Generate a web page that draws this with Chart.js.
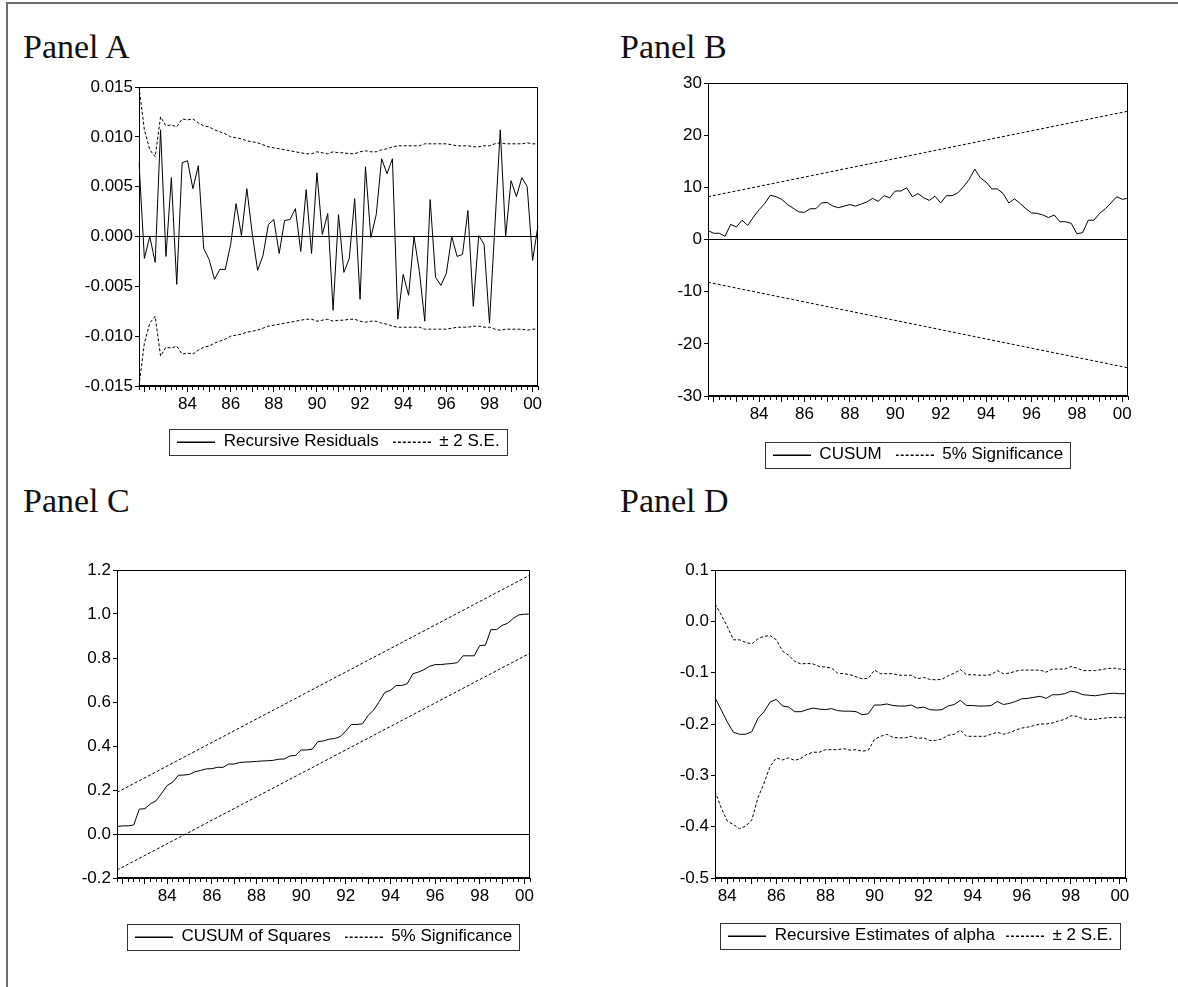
<!DOCTYPE html>
<html>
<head>
<meta charset="utf-8">
<script src="https://cdn.jsdelivr.net/npm/chart.js@4"></script>
<style>
  body { margin: 0; background: #fff; width: 1178px; height: 987px; position: relative; overflow: hidden; }
  .frame { position: absolute; left: 6px; top: 2px; width: 1200px; height: 1000px;
           border-top: 2px solid #6e6e6e; border-left: 2px solid #6e6e6e; }
  .ttl { position: absolute; font: 34px/34px "Liberation Serif", "Times New Roman", serif; color: #111; white-space: nowrap; }
  canvas { position: absolute; }
</style>
</head>
<body>
<div class="frame"></div>
<div class="ttl" style="left:23px;top:30px">Panel A</div>
<div class="ttl" style="left:620px;top:30px">Panel B</div>
<div class="ttl" style="left:23px;top:484px">Panel C</div>
<div class="ttl" style="left:620px;top:484px">Panel D</div>

<canvas id="panelA" width="479" height="392" style="left:69px;top:72px"></canvas>
<canvas id="panelB" width="480" height="409" style="left:658px;top:68px"></canvas>
<canvas id="panelC" width="473" height="404" style="left:67px;top:555px"></canvas>
<canvas id="panelD" width="471" height="403" style="left:665px;top:555px"></canvas>

<script>
// quarterly sample labels
function quarters(year, q, n) {
  const out = [];
  for (let i = 0; i < n; i++) {
    out.push(year + 'Q' + q);
    q++;
    if (q > 4) { q = 1; year++; }
  }
  return out;
}
const quartersABC = quarters(1981, 4, 75);   // 1981Q4 - 2000Q2
const quartersD = quarters(1983, 3, 68);     // 1983Q3 - 2000Q2
const xTickLabels = ['84', '86', '88', '90', '92', '94', '96', '98', '00'];

// Panel A: recursive residuals and the 2 S.E. band
const residA = [0.0074, -0.0022, 0.0000, -0.0026, 0.0107, -0.0020, 0.0059, -0.0048, 0.0074, 0.0076,
  0.0048, 0.0071, -0.0012, -0.0023, -0.0043, -0.0033, -0.0033, -0.0008, 0.0033, 0.0001,
  0.0048, 0.0003, -0.0034, -0.0019, 0.0012, 0.0017, -0.0017, 0.0016, 0.0017, 0.0028,
  -0.0015, 0.0047, -0.0017, 0.0064, 0.0002, 0.0023, -0.0074, 0.0022, -0.0036, -0.0022,
  0.0038, -0.0063, 0.0070, -0.0001, 0.0022, 0.0078, 0.0063, 0.0078, -0.0083, -0.0038,
  -0.0059, 0.0000, -0.0035, -0.0085, 0.0037, -0.0041, -0.0049, -0.0037, 0.0000, -0.0020,
  -0.0018, 0.0026, -0.0070, 0.0001, -0.0008, -0.0087, 0.0010, 0.0107, 0.0000, 0.0056,
  0.0040, 0.0059, 0.0050, -0.0024, 0.0011];
const seA = [0.0150, 0.0107, 0.0087, 0.0080, 0.0120, 0.0111, 0.0112, 0.0110, 0.0118, 0.0117,
  0.0118, 0.0114, 0.0111, 0.0110, 0.0107, 0.0105, 0.0103, 0.0100, 0.0099, 0.0098,
  0.0096, 0.0095, 0.0094, 0.0092, 0.0090, 0.0089, 0.0088, 0.0087, 0.0086, 0.0085,
  0.0084, 0.0083, 0.0083, 0.0085, 0.0084, 0.0083, 0.0085, 0.0084, 0.0084, 0.0083,
  0.0083, 0.0085, 0.0086, 0.0085, 0.0085, 0.0087, 0.0088, 0.0090, 0.0091, 0.0091,
  0.0091, 0.0091, 0.0091, 0.0093, 0.0093, 0.0093, 0.0093, 0.0093, 0.0092, 0.0091,
  0.0091, 0.0091, 0.0090, 0.0090, 0.0091, 0.0091, 0.0093, 0.0094, 0.0093, 0.0093,
  0.0093, 0.0093, 0.0094, 0.0093, 0.0093];

// Panel B: CUSUM, the 5% lines are straight (start, end)
const cusumB = [1.7, 1.2, 1.2, 0.6, 2.9, 2.4, 3.7, 2.7, 4.3, 5.7,
  6.9, 8.5, 8.2, 7.7, 6.7, 6.0, 5.3, 5.2, 5.9, 5.9,
  7.0, 7.1, 6.4, 6.1, 6.4, 6.7, 6.4, 6.8, 7.2, 7.9,
  7.3, 8.4, 8.0, 9.3, 9.3, 9.9, 8.2, 8.8, 8.0, 7.5,
  8.3, 7.0, 8.4, 8.4, 8.9, 10.1, 11.5, 13.5, 11.8, 11.0,
  9.7, 9.7, 8.8, 7.0, 7.8, 6.9, 5.9, 5.1, 5.0, 4.7,
  4.2, 4.7, 3.4, 3.4, 3.1, 1.1, 1.3, 3.7, 3.7, 5.0,
  5.9, 7.0, 8.2, 7.7, 7.9];
const sigUpB = [8.2, 24.6];
const sigLoB = [-8.2, -24.6];

// Panel C: CUSUM of squares
const cusumSqC = [0.034, 0.037, 0.037, 0.041, 0.113, 0.115, 0.137, 0.151, 0.185, 0.221,
  0.236, 0.267, 0.268, 0.271, 0.283, 0.289, 0.296, 0.297, 0.303, 0.303,
  0.318, 0.318, 0.325, 0.327, 0.328, 0.330, 0.332, 0.333, 0.335, 0.340,
  0.341, 0.355, 0.357, 0.382, 0.382, 0.386, 0.420, 0.423, 0.431, 0.434,
  0.443, 0.468, 0.498, 0.498, 0.501, 0.539, 0.564, 0.602, 0.644, 0.653,
  0.675, 0.675, 0.683, 0.728, 0.736, 0.747, 0.762, 0.770, 0.770, 0.773,
  0.775, 0.779, 0.810, 0.810, 0.810, 0.857, 0.858, 0.929, 0.929, 0.948,
  0.958, 0.980, 0.996, 0.999, 1.000];
const sigUpC = [0.189, 1.177];
const sigLoC = [-0.164, 0.822];

// Panel D: recursive estimate of alpha with its band
const alphaD = [-0.149, -0.172, -0.196, -0.216, -0.220, -0.220, -0.215, -0.189, -0.176, -0.157,
  -0.152, -0.165, -0.167, -0.176, -0.176, -0.172, -0.169, -0.171, -0.172, -0.170,
  -0.174, -0.175, -0.175, -0.176, -0.182, -0.180, -0.163, -0.163, -0.161, -0.164,
  -0.165, -0.165, -0.163, -0.169, -0.167, -0.172, -0.173, -0.172, -0.165, -0.162,
  -0.154, -0.164, -0.164, -0.165, -0.165, -0.164, -0.156, -0.162, -0.160, -0.156,
  -0.151, -0.150, -0.148, -0.146, -0.150, -0.143, -0.143, -0.141, -0.136, -0.138,
  -0.143, -0.144, -0.145, -0.143, -0.141, -0.140, -0.141, -0.141];
const upD = [0.034, 0.013, -0.010, -0.036, -0.036, -0.041, -0.044, -0.034, -0.029, -0.028,
  -0.036, -0.058, -0.066, -0.078, -0.083, -0.082, -0.083, -0.088, -0.089, -0.091,
  -0.101, -0.102, -0.104, -0.108, -0.112, -0.111, -0.095, -0.102, -0.102, -0.102,
  -0.105, -0.105, -0.105, -0.112, -0.109, -0.113, -0.114, -0.113, -0.106, -0.101,
  -0.094, -0.104, -0.104, -0.105, -0.105, -0.104, -0.096, -0.102, -0.101, -0.097,
  -0.095, -0.095, -0.095, -0.095, -0.099, -0.093, -0.093, -0.093, -0.088, -0.091,
  -0.096, -0.096, -0.096, -0.094, -0.092, -0.091, -0.093, -0.094];
const loD = [-0.331, -0.363, -0.389, -0.396, -0.404, -0.399, -0.387, -0.344, -0.315, -0.282,
  -0.266, -0.270, -0.266, -0.271, -0.267, -0.259, -0.255, -0.255, -0.250, -0.250,
  -0.250, -0.248, -0.251, -0.250, -0.253, -0.251, -0.230, -0.224, -0.220, -0.226,
  -0.227, -0.227, -0.224, -0.228, -0.227, -0.232, -0.232, -0.229, -0.222, -0.220,
  -0.212, -0.224, -0.224, -0.224, -0.224, -0.220, -0.216, -0.220, -0.217, -0.212,
  -0.208, -0.206, -0.203, -0.200, -0.200, -0.198, -0.194, -0.191, -0.184, -0.185,
  -0.190, -0.191, -0.191, -0.189, -0.188, -0.187, -0.187, -0.188];

Chart.defaults.font.family = '"Liberation Sans", Arial, sans-serif';
Chart.defaults.font.size = 17;
Chart.defaults.color = '#000';

const font = { size: 17 };
const LINE_W = 38;

// little line samples used as legend symbols
function sample(dash) {
  const c = document.createElement('canvas');
  c.width = LINE_W; c.height = 2;
  const g = c.getContext('2d');
  g.fillStyle = '#000';
  if (!dash) g.fillRect(0, 1, LINE_W, 1);
  else for (let x = 0; x < LINE_W; x += 5) g.fillRect(x, 1, 3, 1);
  return c;
}
const solidSample = sample(false);
const dashSample = sample(true);

function solid(label, data) {
  return { label, data, borderColor: '#000', borderWidth: 1, pointRadius: 0, pointStyle: solidSample,
           tension: 0, fill: false };
}
function dashed(label, data) {
  return { label, data, borderColor: '#000', borderWidth: 1, borderDash: [3, 2], pointRadius: 0,
           pointStyle: dashSample, tension: 0, fill: false };
}
// straight line from first to last category
function ends(cats, vals) {
  return [{ x: cats[0], y: vals[0] }, { x: cats[cats.length - 1], y: vals[1] }];
}

function xAxis(h) {
  return {
    type: 'category',
    offset: false,
    grid: {
      drawOnChartArea: false,
      tickLength: 6,
      tickColor: '#000',
      tickBorderDash: (c) => {
        const l = c.chart.data.labels[c.index] || '';
        return l.endsWith('Q1') ? [] : [3, 30];
      }
    },
    border: { color: '#000' },
    ticks: {
      autoSkip: false, maxRotation: 0, minRotation: 0, padding: 2, color: '#000', font,
      callback: function (v) {
        const l = this.getLabelForValue(v);
        const yy = l.slice(2, 4);
        return (l.endsWith('Q1') && xTickLabels.includes(yy)) ? yy : '';
      }
    },
    afterFit: (s) => { s.height = h; }
  };
}

function yAxis(min, max, step, dec, w, zeroLine) {
  return {
    min, max,
    ticks: {
      stepSize: step, padding: 2, color: '#000', font,
      callback: (v) => (Math.abs(v) < 1e-9 ? 0 : v).toFixed(dec)
    },
    grid: {
      drawOnChartArea: zeroLine,
      tickLength: 4,
      tickColor: '#000',
      color: (c) => (c.tick && Math.abs(c.tick.value) < 1e-9) ? '#000' : 'rgba(0,0,0,0)'
    },
    border: { color: '#000' },
    afterFit: (s) => { s.width = w; }
  };
}

// box round the plot area
const plotFrame = {
  id: 'plotFrame',
  afterDatasetsDraw(chart) {
    const { ctx, chartArea: a } = chart;
    ctx.save();
    ctx.strokeStyle = '#000';
    ctx.lineWidth = 1;
    const l = Math.round(a.left) + 0.5, t = Math.round(a.top) + 0.5;
    ctx.strokeRect(l, t, Math.round(a.right) - Math.round(a.left) - 1, Math.round(a.bottom) - Math.round(a.top) - 1);
    ctx.restore();
  }
};

// box round the legend entries
const legendFrame = {
  id: 'legendFrame',
  afterDraw(chart) {
    const hb = chart.legend && chart.legend.legendHitBoxes;
    if (!hb || !hb.length) return;
    const first = hb[0], last = hb[hb.length - 1];
    const x1 = Math.round(first.left - 8), x2 = Math.round(last.left + last.width + 7);
    const cy = first.top + first.height / 2;
    const ctx = chart.ctx;
    ctx.save();
    ctx.strokeStyle = '#333';
    ctx.lineWidth = 1;
    ctx.strokeRect(x1 + 0.5, Math.round(cy - 13) + 0.5, x2 - x1, 26);
    ctx.restore();
  }
};

function makeChart(id, labels, datasets, y, xh, legendPad) {
  return new Chart(document.getElementById(id), {
    type: 'line',
    data: { labels, datasets },
    plugins: [plotFrame, legendFrame],
    options: {
      responsive: false,
      animation: false,
      devicePixelRatio: 1,
      events: [],
      layout: { padding: { top: 15, right: 10, bottom: 4, left: 0 } },
      scales: { x: xAxis(xh), y },
      plugins: {
        tooltip: { enabled: false },
        legend: {
          position: 'bottom',
          fullSize: false,
          labels: {
            usePointStyle: true,
            pointStyleWidth: LINE_W,
            padding: legendPad,
            color: '#000',
            font,
            filter: (item) => item.datasetIndex < 2
          }
        }
      }
    }
  });
}

makeChart('panelA', quartersABC, [
  solid('Recursive Residuals', residA),
  dashed('± 2 S.E.', seA),
  dashed('', seA.map(v => -v))
], yAxis(-0.015, 0.015, 0.005, 3, 70, true), 33, 14);

makeChart('panelB', quartersABC, [
  solid('CUSUM', cusumB),
  dashed('5% Significance', ends(quartersABC, sigUpB)),
  dashed('', ends(quartersABC, sigLoB))
], yAxis(-30, 30, 10, 0, 50, true), 36, 14);

makeChart('panelC', quartersABC, [
  solid('CUSUM of Squares', cusumSqC),
  dashed('5% Significance', ends(quartersABC, sigUpC)),
  dashed('', ends(quartersABC, sigLoC))
], yAxis(-0.2, 1.2, 0.2, 1, 50, true), 36, 14);

makeChart('panelD', quartersD, [
  solid('Recursive Estimates of alpha', alphaD),
  dashed('± 2 S.E.', upD),
  dashed('', loD)
], yAxis(-0.5, 0.1, 0.1, 1, 50, false), 38, 11);
</script>
</body>
</html>
